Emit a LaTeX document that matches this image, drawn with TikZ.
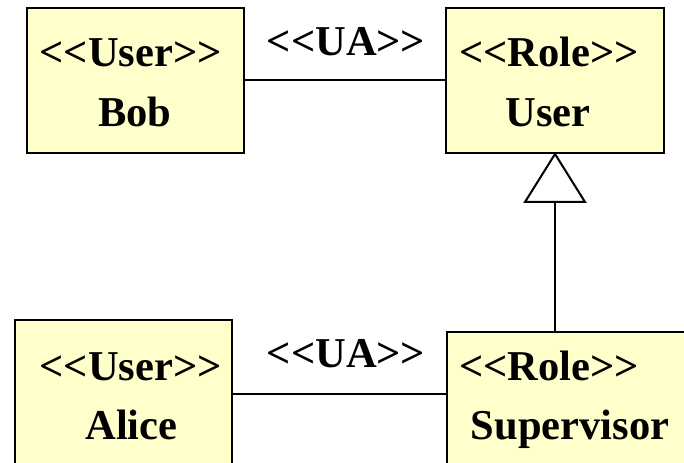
\documentclass[tikz,border=0pt]{standalone}
\usepackage{fontspec}
\setmainfont{Liberation Serif}
\definecolor{boxfill}{HTML}{FFFFCC}
\begin{document}
\begin{tikzpicture}[x=0.75pt,y=-0.75pt,
  box/.style={draw=black, fill=boxfill, line width=1.5pt, rectangle, inner sep=0pt, anchor=north west},
  txt/.style={font=\fontsize{31.9}{40}\selectfont\bfseries, inner sep=0pt, anchor=base},
  conn/.style={draw=black, line width=1.5pt}]
\useasboundingbox (0,0) rectangle (684,463);
% boxes
\node[box, minimum width=217*0.75pt, minimum height=145*0.75pt] (bob) at (26,7) {};
\node[box, minimum width=218*0.75pt, minimum height=145*0.75pt] (user) at (445,7) {};
\node[box, minimum width=217*0.75pt, minimum height=147*0.75pt] (alice) at (14,319) {};
\node[box, minimum width=250*0.75pt, minimum height=132*0.75pt] (sup) at (446,331) {};
% texts
\node[txt] (bob1) at (130.5,67) {{<}{<}User{>}{>}};
\node[txt] (bob2) at (135,127) {Bob};
\node[txt] (user1) at (549,67) {{<}{<}Role{>}{>}};
\node[txt] (user2) at (548,127) {User};
\node[txt] (alice1) at (130.5,380) {{<}{<}User{>}{>}};
\node[txt] (alice2) at (131.5,439) {Alice};
\node[txt] (sup1) at (549,380) {{<}{<}Role{>}{>}};
\node[txt] (sup2) at (570,439) {Supervisor};
\node[txt] (ua1) at (346,56) {{<}{<}UA{>}{>}};
\node[txt] (ua2) at (346,367) {{<}{<}UA{>}{>}};
% connectors
\draw[conn] (bob.east) -- (user.west);
\draw[conn] (alice.east) -- (alice.east -| sup.west);
\coordinate (tb) at ([yshift=-48*0.75pt]user.south);
\draw[conn, fill=white, line join=miter] (user.south) -- ([xshift=-30*0.75pt]tb) -- ([xshift=30*0.75pt]tb) -- cycle;
\draw[conn] (tb) -- (tb |- sup.north);
\end{tikzpicture}
\end{document}
